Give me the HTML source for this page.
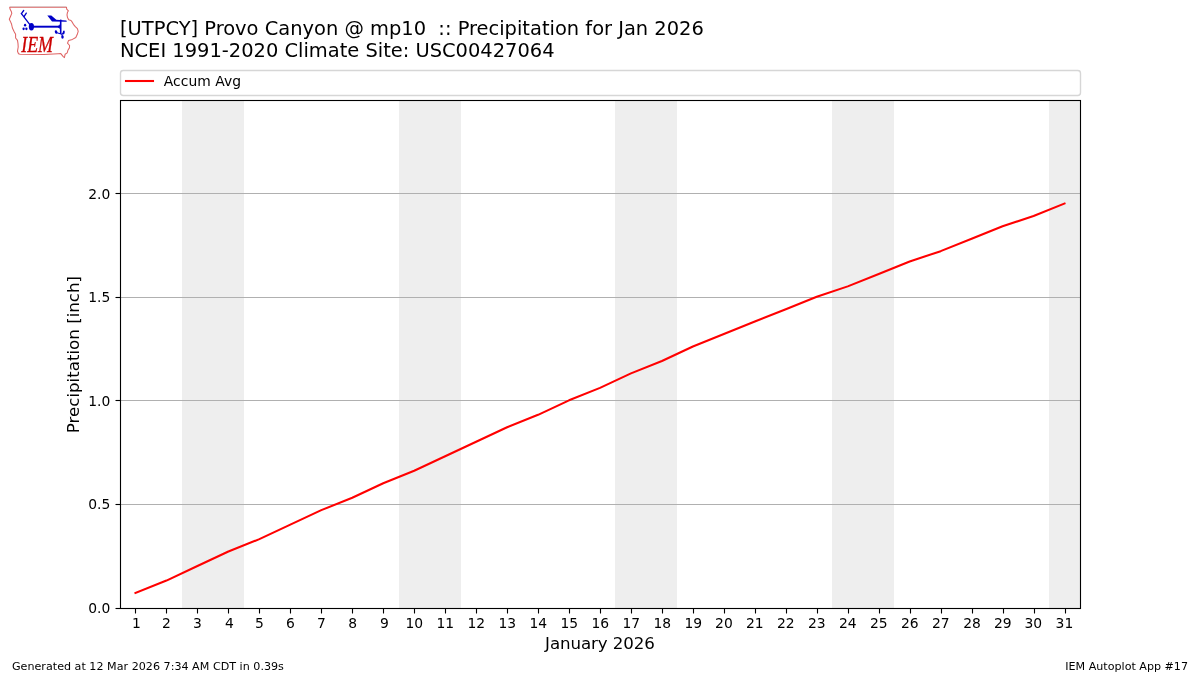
<!DOCTYPE html>
<html lang="en"><head><meta charset="utf-8"><title>IEM Autoplot App #17</title>
<style>html,body{margin:0;padding:0;background:#fff;}body{width:1200px;height:675px;overflow:hidden;}svg{display:block;will-change:transform;}text{font-family:"DejaVu Sans","Liberation Sans",sans-serif;fill:#000;}</style>
</head><body>
<svg width="1200" height="675" viewBox="0 0 1200 675">
<rect x="0" y="0" width="1200" height="675" fill="#ffffff"/>
<g id="iemlogo">
<path d="M9.7,7.2 L66.5,7.2 L66.7,9.1 L68.4,10.8 L67.5,12.2 L67.0,14.8 L67.5,17.6 L68.7,19.8 L71.0,20.5 L72.4,22.4 L73.4,24.3 L75.3,26.7 L77.4,28.6 L78.2,31.4 L77.2,34.6 L75.8,37.5 L72.4,39.4 L68.6,40.4 L67.5,43.2 L69.6,45.5 L69.4,47.9 L67.9,50.3 L67.2,52.9 L65.1,54.3 L64.4,57.6 L63.0,56.4 L60.8,53.6 L58.2,53.7 L44,54.4 L20.1,54.3 L18.5,53.8 L17.5,51.2 L18.2,47.0 L18.0,43.6 L17.5,40.3 L15.6,38.0 L15.6,34.2 L14.2,31.8 L12.4,28.0 L11.6,24.3 L10.4,21.4 L9.3,19.3 L10.6,16.2 L11.8,13.4 L11.3,11.5 L10.0,9.0 Z" fill="none" stroke="#df6464" stroke-width="1.05" stroke-linejoin="round"/>
<path d="M9.8,6.7 L66.4,6.7" fill="none" stroke="#8c8c8c" stroke-opacity="0.4" stroke-width="0.7"/>
<g fill="#0000c8" stroke="none">
<ellipse cx="31.4" cy="26.7" rx="2.6" ry="3.7"/>
<ellipse cx="25.1" cy="25.2" rx="1.15" ry="1.35"/>
<ellipse cx="23.6" cy="28.8" rx="1.15" ry="1.35"/>
<ellipse cx="26.4" cy="28.8" rx="1.15" ry="1.35"/>
<path d="M47.3,15.5 L51.3,15.4 L56.3,19.8 L66.4,20.4 L66.8,21.8 L52.0,21.6 Z"/>
<path d="M57.5,26.7 L59.8,24.3 L59.8,29.1 Z"/>
<ellipse cx="56.1" cy="32.0" rx="1.25" ry="1.8" transform="rotate(-20 56.1 32.0)"/>
<ellipse cx="63.7" cy="32.5" rx="1.0" ry="2.0" transform="rotate(10 63.7 32.5)"/>
<ellipse cx="62.5" cy="37.0" rx="1.25" ry="1.8"/>
</g>
<g fill="none" stroke="#0000c8" stroke-linecap="round">
<path d="M31.4,26.7 L21.4,13.6" stroke-width="1.3"/>
<path d="M21.4,13.6 L23.7,10.5 M24.2,16.4 L26.3,13.1" stroke-width="1.3"/>
<path d="M31.4,26.7 L60.6,26.7" stroke-width="1.95" stroke-linecap="butt"/>
<path d="M60.7,19.6 L60.7,34.0" stroke-width="1.6" stroke-linecap="butt"/>
<path d="M56.3,32.4 L61.9,34.3 L62.4,36.6 M61.9,34.3 L63.5,33.0" stroke-width="1.1"/>
</g>
<text x="21.2" y="52" font-size="22.4" textLength="31.8" lengthAdjust="spacingAndGlyphs" style="font-family:'Liberation Serif','DejaVu Serif',serif;font-style:italic;fill:#cc0000;stroke:#cc0000;stroke-width:0.3px">IEM</text>
</g>

<text x="120" y="35" font-size="19.444">[UTPCY] Provo Canyon @ mp10  :: Precipitation for Jan 2026</text>
<text x="120" y="57" font-size="19.444">NCEI 1991-2020 Climate Site: USC00427064</text>
<rect x="120.5" y="70.5" width="960" height="25" rx="2.78" ry="2.78" fill="#fff" stroke="#d6d6d6" stroke-width="1.389"/>
<rect x="124.96" y="79.96" width="29.08" height="2.08" fill="#ff0000"/>
<text x="163.7" y="86" font-size="13.889" textLength="77.4" lengthAdjust="spacing">Accum Avg</text>
<rect x="182" y="101" width="62" height="507" fill="#eeeeee" shape-rendering="crispEdges"/>
<rect x="399" y="101" width="62" height="507" fill="#eeeeee" shape-rendering="crispEdges"/>
<rect x="615" y="101" width="62" height="507" fill="#eeeeee" shape-rendering="crispEdges"/>
<rect x="832" y="101" width="62" height="507" fill="#eeeeee" shape-rendering="crispEdges"/>
<rect x="1049" y="101" width="31" height="507" fill="#eeeeee" shape-rendering="crispEdges"/>
<line x1="121" x2="1080" y1="504.5" y2="504.5" stroke="#b0b0b0" stroke-width="1.111"/>
<line x1="121" x2="1080" y1="400.5" y2="400.5" stroke="#b0b0b0" stroke-width="1.111"/>
<line x1="121" x2="1080" y1="297.5" y2="297.5" stroke="#b0b0b0" stroke-width="1.111"/>
<line x1="121" x2="1080" y1="193.5" y2="193.5" stroke="#b0b0b0" stroke-width="1.111"/>
<polyline points="135.48,593.00 166.45,580.57 197.42,566.06 228.39,551.56 259.35,539.13 290.32,524.63 321.29,510.12 352.26,497.69 383.23,483.19 414.19,470.76 445.16,456.26 476.13,441.75 507.10,427.25 538.06,414.82 569.03,400.32 600.00,387.89 630.97,373.38 661.94,360.95 692.90,346.45 723.87,334.02 754.84,321.59 785.81,309.16 816.77,296.72 847.74,286.37 878.71,273.93 909.68,261.50 940.65,251.14 971.61,238.71 1002.58,226.28 1033.55,215.92 1064.52,203.49" fill="none" stroke="#ff0000" stroke-width="2.083" stroke-linejoin="round" stroke-linecap="square"/>
<rect x="120.5" y="100.5" width="960" height="508" fill="none" stroke="#000" stroke-width="1.111"/>
<line x1="135.5" x2="135.5" y1="608.5" y2="613.5" stroke="#000" stroke-width="1.111"/>
<line x1="166.5" x2="166.5" y1="608.5" y2="613.5" stroke="#000" stroke-width="1.111"/>
<line x1="197.5" x2="197.5" y1="608.5" y2="613.5" stroke="#000" stroke-width="1.111"/>
<line x1="228.5" x2="228.5" y1="608.5" y2="613.5" stroke="#000" stroke-width="1.111"/>
<line x1="259.5" x2="259.5" y1="608.5" y2="613.5" stroke="#000" stroke-width="1.111"/>
<line x1="290.5" x2="290.5" y1="608.5" y2="613.5" stroke="#000" stroke-width="1.111"/>
<line x1="321.5" x2="321.5" y1="608.5" y2="613.5" stroke="#000" stroke-width="1.111"/>
<line x1="352.5" x2="352.5" y1="608.5" y2="613.5" stroke="#000" stroke-width="1.111"/>
<line x1="383.5" x2="383.5" y1="608.5" y2="613.5" stroke="#000" stroke-width="1.111"/>
<line x1="414.5" x2="414.5" y1="608.5" y2="613.5" stroke="#000" stroke-width="1.111"/>
<line x1="445.5" x2="445.5" y1="608.5" y2="613.5" stroke="#000" stroke-width="1.111"/>
<line x1="476.5" x2="476.5" y1="608.5" y2="613.5" stroke="#000" stroke-width="1.111"/>
<line x1="507.5" x2="507.5" y1="608.5" y2="613.5" stroke="#000" stroke-width="1.111"/>
<line x1="538.5" x2="538.5" y1="608.5" y2="613.5" stroke="#000" stroke-width="1.111"/>
<line x1="569.5" x2="569.5" y1="608.5" y2="613.5" stroke="#000" stroke-width="1.111"/>
<line x1="600.5" x2="600.5" y1="608.5" y2="613.5" stroke="#000" stroke-width="1.111"/>
<line x1="631.5" x2="631.5" y1="608.5" y2="613.5" stroke="#000" stroke-width="1.111"/>
<line x1="662.5" x2="662.5" y1="608.5" y2="613.5" stroke="#000" stroke-width="1.111"/>
<line x1="693.5" x2="693.5" y1="608.5" y2="613.5" stroke="#000" stroke-width="1.111"/>
<line x1="724.5" x2="724.5" y1="608.5" y2="613.5" stroke="#000" stroke-width="1.111"/>
<line x1="755.5" x2="755.5" y1="608.5" y2="613.5" stroke="#000" stroke-width="1.111"/>
<line x1="786.5" x2="786.5" y1="608.5" y2="613.5" stroke="#000" stroke-width="1.111"/>
<line x1="817.5" x2="817.5" y1="608.5" y2="613.5" stroke="#000" stroke-width="1.111"/>
<line x1="848.5" x2="848.5" y1="608.5" y2="613.5" stroke="#000" stroke-width="1.111"/>
<line x1="879.5" x2="879.5" y1="608.5" y2="613.5" stroke="#000" stroke-width="1.111"/>
<line x1="910.5" x2="910.5" y1="608.5" y2="613.5" stroke="#000" stroke-width="1.111"/>
<line x1="941.5" x2="941.5" y1="608.5" y2="613.5" stroke="#000" stroke-width="1.111"/>
<line x1="972.5" x2="972.5" y1="608.5" y2="613.5" stroke="#000" stroke-width="1.111"/>
<line x1="1003.5" x2="1003.5" y1="608.5" y2="613.5" stroke="#000" stroke-width="1.111"/>
<line x1="1034.5" x2="1034.5" y1="608.5" y2="613.5" stroke="#000" stroke-width="1.111"/>
<line x1="1065.5" x2="1065.5" y1="608.5" y2="613.5" stroke="#000" stroke-width="1.111"/>
<text x="136.52" y="628" font-size="13.889" text-anchor="middle">1</text>
<text x="166.39" y="628" font-size="13.889" text-anchor="middle">2</text>
<text x="197.48" y="628" font-size="13.889" text-anchor="middle">3</text>
<text x="229.39" y="628" font-size="13.889" text-anchor="middle">4</text>
<text x="259.35" y="628" font-size="13.889" text-anchor="middle">5</text>
<text x="290.32" y="628" font-size="13.889" text-anchor="middle">6</text>
<text x="321.33" y="628" font-size="13.889" text-anchor="middle">7</text>
<text x="352.59" y="628" font-size="13.889" text-anchor="middle">8</text>
<text x="384.50" y="628" font-size="13.889" text-anchor="middle">9</text>
<text x="414.34" y="628" font-size="13.889" text-anchor="middle">10</text>
<text x="445.38" y="628" font-size="13.889" text-anchor="middle">11</text>
<text x="476.35" y="628" font-size="13.889" text-anchor="middle">12</text>
<text x="507.33" y="628" font-size="13.889" text-anchor="middle">13</text>
<text x="538.35" y="628" font-size="13.889" text-anchor="middle">14</text>
<text x="569.29" y="628" font-size="13.889" text-anchor="middle">15</text>
<text x="600.23" y="628" font-size="13.889" text-anchor="middle">16</text>
<text x="631.36" y="628" font-size="13.889" text-anchor="middle">17</text>
<text x="662.37" y="628" font-size="13.889" text-anchor="middle">18</text>
<text x="693.28" y="628" font-size="13.889" text-anchor="middle">19</text>
<text x="723.92" y="628" font-size="13.889" text-anchor="middle">20</text>
<text x="754.84" y="628" font-size="13.889" text-anchor="middle">21</text>
<text x="785.75" y="628" font-size="13.889" text-anchor="middle">22</text>
<text x="816.73" y="628" font-size="13.889" text-anchor="middle">23</text>
<text x="847.74" y="628" font-size="13.889" text-anchor="middle">24</text>
<text x="878.71" y="628" font-size="13.889" text-anchor="middle">25</text>
<text x="909.80" y="628" font-size="13.889" text-anchor="middle">26</text>
<text x="940.85" y="628" font-size="13.889" text-anchor="middle">27</text>
<text x="971.97" y="628" font-size="13.889" text-anchor="middle">28</text>
<text x="1002.86" y="628" font-size="13.889" text-anchor="middle">29</text>
<text x="1033.39" y="628" font-size="13.889" text-anchor="middle">30</text>
<text x="1064.44" y="628" font-size="13.889" text-anchor="middle">31</text>
<line x1="115.5" x2="120.5" y1="608.5" y2="608.5" stroke="#000" stroke-width="1.111"/>
<text x="110.28" y="613" font-size="13.889" text-anchor="end">0.0</text>
<line x1="115.5" x2="120.5" y1="504.5" y2="504.5" stroke="#000" stroke-width="1.111"/>
<text x="110.28" y="509" font-size="13.889" text-anchor="end">0.5</text>
<line x1="115.5" x2="120.5" y1="400.5" y2="400.5" stroke="#000" stroke-width="1.111"/>
<text x="110.28" y="406" font-size="13.889" text-anchor="end">1.0</text>
<line x1="115.5" x2="120.5" y1="297.5" y2="297.5" stroke="#000" stroke-width="1.111"/>
<text x="110.28" y="302" font-size="13.889" text-anchor="end">1.5</text>
<line x1="115.5" x2="120.5" y1="193.5" y2="193.5" stroke="#000" stroke-width="1.111"/>
<text x="110.28" y="199" font-size="13.889" text-anchor="end">2.0</text>
<text x="599.95" y="649" font-size="16.667" text-anchor="middle" textLength="109.7" lengthAdjust="spacing">January 2026</text>
<text transform="translate(79,354.6) rotate(-90)" font-size="16.667" text-anchor="middle">Precipitation [inch]</text>
<text x="12" y="670" font-size="11.111" textLength="271.9" lengthAdjust="spacing">Generated at 12 Mar 2026 7:34 AM CDT in 0.39s</text>
<text x="1188" y="670" font-size="11.111" text-anchor="end">IEM Autoplot App #17</text>
</svg>
</body></html>
